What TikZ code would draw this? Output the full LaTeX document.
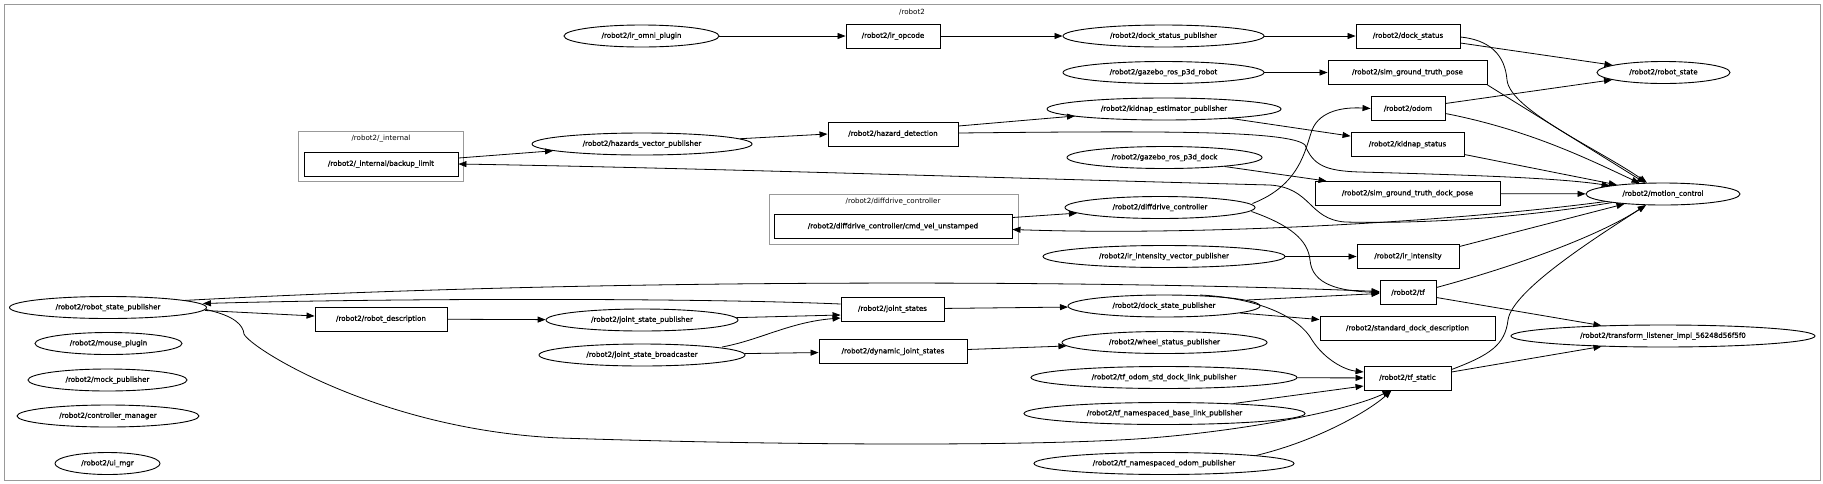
\documentclass[tikz,border=0pt]{standalone}
\usepackage{fontspec}
\usetikzlibrary{shapes.geometric,arrows.meta,calc}
\newfontfamily\nodefont{DejaVu Sans}[FakeBold=1]
\newfontfamily\titlefont{DejaVu Sans}
\tikzset{
  box/.style={draw, rectangle, inner sep=0pt, minimum height=24pt, line width=0.9pt, font=\nodefont\fontsize{7.1}{8}\selectfont},
  ell/.style={draw, ellipse, inner sep=0pt, minimum height=22pt, line width=0.9pt, font=\nodefont\fontsize{7.1}{8}\selectfont},
  edge/.style={draw, line width=0.8pt, -{Triangle[length=8pt,width=6pt]}},
  cluster/.style={draw=black!40, line width=1pt, rectangle, inner sep=0pt},
  ctitle/.style={font=\titlefont\fontsize{7.1}{8}\selectfont, inner sep=0pt}
}
\begin{document}
\begin{tikzpicture}[x=1pt,y=-1pt]
\useasboundingbox (0,0) rectangle (1823,483);
% clusters
\node[cluster, minimum width=1816pt, minimum height=476pt] (clrobot) at (912,242) {};
\node[ctitle] (trobot) at (912,12) {/robot2};
\node[cluster, minimum width=165pt, minimum height=50.5pt] (clinternal) at (381,156.25) {};
\node[ctitle] (tinternal) at (381,139) {/robot2/\_internal};
\node[cluster, minimum width=249pt, minimum height=50pt] (cldiff) at (893.5,219) {};
\node[ctitle] (tdiff) at (893,202) {/robot2/diffdrive\_controller};
% nodes
\node[ell,minimum width=155pt] (iromni) at (641.5,36) {/robot2/ir\_omni\_plugin};
\node[box,minimum width=94pt] (iropcode) at (893,36) {/robot2/ir\_opcode};
\node[ell,minimum width=201pt] (dsp) at (1163.5,36) {/robot2/dock\_status\_publisher};
\node[box,minimum width=104pt] (dockstatus) at (1408,36) {/robot2/dock\_status};
\node[ell,minimum width=201pt] (gzrobot) at (1163.5,72.5) {/robot2/gazebo\_ros\_p3d\_robot};
\node[box,minimum width=159pt] (sgtp) at (1407.5,72.5) {/robot2/sim\_ground\_truth\_pose};
\node[ell,minimum width=133pt] (robotstate) at (1663.5,72.5) {/robot2/robot\_state};
\node[ell,minimum width=234pt] (kep) at (1164,109) {/robot2/kidnap\_estimator\_publisher};
\node[box,minimum width=74pt] (odom) at (1408,108.5) {/robot2/odom};
\node[box,minimum width=130pt] (hazard) at (893,134) {/robot2/hazard\_detection};
\node[ell,minimum width=220pt] (hvp) at (642,144) {/robot2/hazards\_vector\_publisher};
\node[box,minimum width=154pt] (backup) at (381,164) {/robot2/\_internal/backup\_limit};
\node[box,minimum width=113pt] (kstatus) at (1407.5,144.5) {/robot2/kidnap\_status};
\node[ell,minimum width=195pt] (gzdock) at (1164.5,157.5) {/robot2/gazebo\_ros\_p3d\_dock};
\node[box,minimum width=185pt] (sgtdp) at (1407.5,193.5) {/robot2/sim\_ground\_truth\_dock\_pose};
\node[ell,minimum width=154pt] (mc) at (1663,194) {/robot2/motion\_control};
\node[ell,minimum width=190pt] (ddc) at (1160,207.5) {/robot2/diffdrive\_controller};
\node[box,minimum width=238pt] (cmdvel) at (893,226.5) {/robot2/diffdrive\_controller/cmd\_vel\_unstamped};
\node[ell,minimum width=242pt] (irivp) at (1164,256.5) {/robot2/ir\_intensity\_vector\_publisher};
\node[box,minimum width=102pt] (irint) at (1408,256.5) {/robot2/ir\_intensity};
\node[box,minimum width=56pt] (tf) at (1408,292.5) {/robot2/tf};
\node[ell,minimum width=197pt] (rsp) at (108,307.5) {/robot2/robot\_state\_publisher};
\node[box,minimum width=103pt] (jointstates) at (892.5,309) {/robot2/joint\_states};
\node[ell,minimum width=192pt] (dstatep) at (1164,306) {/robot2/dock\_state\_publisher};
\node[box,minimum width=132pt] (rdesc) at (381,319) {/robot2/robot\_description};
\node[ell,minimum width=192pt] (jsp) at (642,320) {/robot2/joint\_state\_publisher};
\node[box,minimum width=175pt] (sdd) at (1407.5,328.5) {/robot2/standard\_dock\_description};
\node[ell,minimum width=147pt] (mouse) at (108.5,343.5) {/robot2/mouse\_plugin};
\node[ell,minimum width=304pt] (tl) at (1663,336) {/robot2/transform\_listener\_impl\_56248d56f5f0};
\node[ell,minimum width=205pt] (wsp) at (1164.5,342.5) {/robot2/wheel\_status\_publisher};
\node[box,minimum width=148pt] (djs) at (893,351.5) {/robot2/dynamic\_joint\_states};
\node[ell,minimum width=206pt] (jsb) at (642,355) {/robot2/joint\_state\_broadcaster};
\node[ell,minimum width=159pt] (mock) at (107.5,380) {/robot2/mock\_publisher};
\node[ell,minimum width=266pt] (tfodom) at (1164,377.5) {/robot2/tf\_odom\_std\_dock\_link\_publisher};
\node[box,minimum width=87pt] (tfstatic) at (1407.5,378) {/robot2/tf\_static};
\node[ell,minimum width=281pt] (tfbase) at (1164.5,413.5) {/robot2/tf\_namespaced\_base\_link\_publisher};
\node[ell,minimum width=182pt] (cm) at (108,416) {/robot2/controller\_manager};
\node[ell,minimum width=105pt] (uimgr) at (107.5,463.5) {/robot2/ui\_mgr};
\node[ell,minimum width=260pt] (tfnsodom) at (1164,463.5) {/robot2/tf\_namespaced\_odom\_publisher};
% edges
\draw[edge] (iromni) -- (iropcode);
\draw[edge] (iropcode) -- (dsp);
\draw[edge] (dsp) -- (dockstatus);
\draw[edge] (gzrobot) -- (sgtp);
\draw[edge] ($(dockstatus.east)+(0,7)$) -- (robotstate);
\draw[edge] ($(dockstatus.east)+(0,1)$) .. controls (1490,40) and (1505,55) .. (1507,80) .. controls (1510,110) and (1600,150) .. (mc);
\draw[edge] (sgtp.south east) -- (mc);
\draw[edge] ($(kep.center)+(64,9)$) -- (kstatus);
\draw[edge] ($(hazard.east)+(0,-8)$) -- ($(kep.center)+(-89,7)$);
\draw[edge] (hvp) -- (hazard.west);
\draw[edge] ($(backup.east)+(0,-6)$) -- (hvp);
\draw[edge] ($(hazard.east)+(0,-1)$) .. controls (1150,131) and (1290,130) .. (1305,145) .. controls (1313,165) and (1325,171) .. (1360,172) .. controls (1470,175) and (1560,178) .. (mc);
\draw[edge] (mc) .. controls (1520,218) and (1420,224) .. (1345,222) .. controls (1308,219) and (1312,188) .. (1270,185) .. controls (1000,178) and (700,168) .. (backup.east);
\draw[edge] ($(gzdock.center)+(60,9)$) -- ($(sgtdp.north west)+(12,0)$);
\draw[edge] (sgtdp) -- (mc);
\draw[edge] ($(odom.east)+(0,-5)$) -- (robotstate);
\draw[edge] ($(odom.east)+(0,5)$) .. controls (1530,130) and (1590,160) .. (mc);
\draw[edge] ($(kstatus.east)+(0,10)$) -- (mc);
\draw[edge] ($(ddc.east)+(-3,-4)$) .. controls (1300,185) and (1305,150) .. (1312,130) .. controls (1320,110) and (1345,107) .. (odom.west);
\draw[edge] ($(ddc.east)+(-4,4)$) .. controls (1290,225) and (1308,240) .. (1310,260) .. controls (1312,285) and (1340,291) .. (tf.west);
\draw[edge] ($(cmdvel.east)+(0,-9)$) -- (ddc);
\draw[edge] (mc) .. controls (1450,222) and (1200,236) .. ($(cmdvel.east)+(0,3)$);
\draw[edge] (irivp) -- (irint);
\draw[edge] ($(irint.east)+(0,-10)$) -- (mc);
\draw[edge] ($(tf.east)+(0,-5)$) .. controls (1520,265) and (1600,235) .. (mc);
\draw[edge] ($(tf.east)+(0,5)$) -- (tl);
\draw[edge] ($(tfstatic.east)+(0,-6)$) -- (tl);
\draw[edge] ($(tfstatic.north east)+(0,4)$) .. controls (1490,355) and (1505,345) .. (1508,320) .. controls (1512,290) and (1600,235) .. (mc);
\draw[edge] ($(rsp.center)+(75,-7)$) .. controls (600,278) and (1100,280) .. ($(tf.west)+(0,-1)$);
\draw[edge] ($(jointstates.west)+(0,-5)$) .. controls (700,298) and (400,298) .. ($(rsp.east)+(-4,-4)$);
\draw[edge] ($(rsp.east)+(-2,3)$) -- ($(rdesc.west)+(0,-3)$);
\draw[edge] (rdesc) -- (jsp);
\draw[edge] (jsp) -- ($(jointstates.west)+(0,6)$);
\draw[edge] ($(jsb.center)+(80,-8)$) .. controls (760,340) and (790,322) .. ($(jointstates.west)+(0,9)$);
\draw[edge] (jsb) -- (djs);
\draw[edge] (jointstates) -- (dstatep);
\draw[edge] ($(djs.east)+(0,-2)$) -- (wsp);
\draw[edge] ($(dstatep.center)+(83,-6)$) -- ($(tf.west)+(0,1)$);
\draw[edge] ($(dstatep.center)+(76,7)$) -- ($(sdd.north west)+(0,3.5)$);
\draw[edge] ($(dstatep.center)+(36,-11)$) .. controls (1260,298) and (1300,318) .. (1312,340) .. controls (1325,360) and (1345,370) .. ($(tfstatic.west)+(0,-6)$);
\draw[edge] (tfodom) -- (tfstatic);
\draw[edge] ($(tfbase.center)+(69,-10)$) -- ($(tfstatic.west)+(0,8)$);
\draw[edge] ($(tfnsodom.center)+(92,-8)$) .. controls (1320,440) and (1370,410) .. ($(tfstatic.south)+(-16,0)$);
\draw[edge] ($(rsp.east)+(-1,2)$) .. controls (235,316) and (243,325) .. (244,334) .. controls (250,348) and (380,430) .. (560,438) .. controls (800,446) and (1050,446) .. (1150,438) .. controls (1250,430) and (1350,410) .. ($(tfstatic.south)+(-17,0)$);
\end{tikzpicture}
\end{document}
